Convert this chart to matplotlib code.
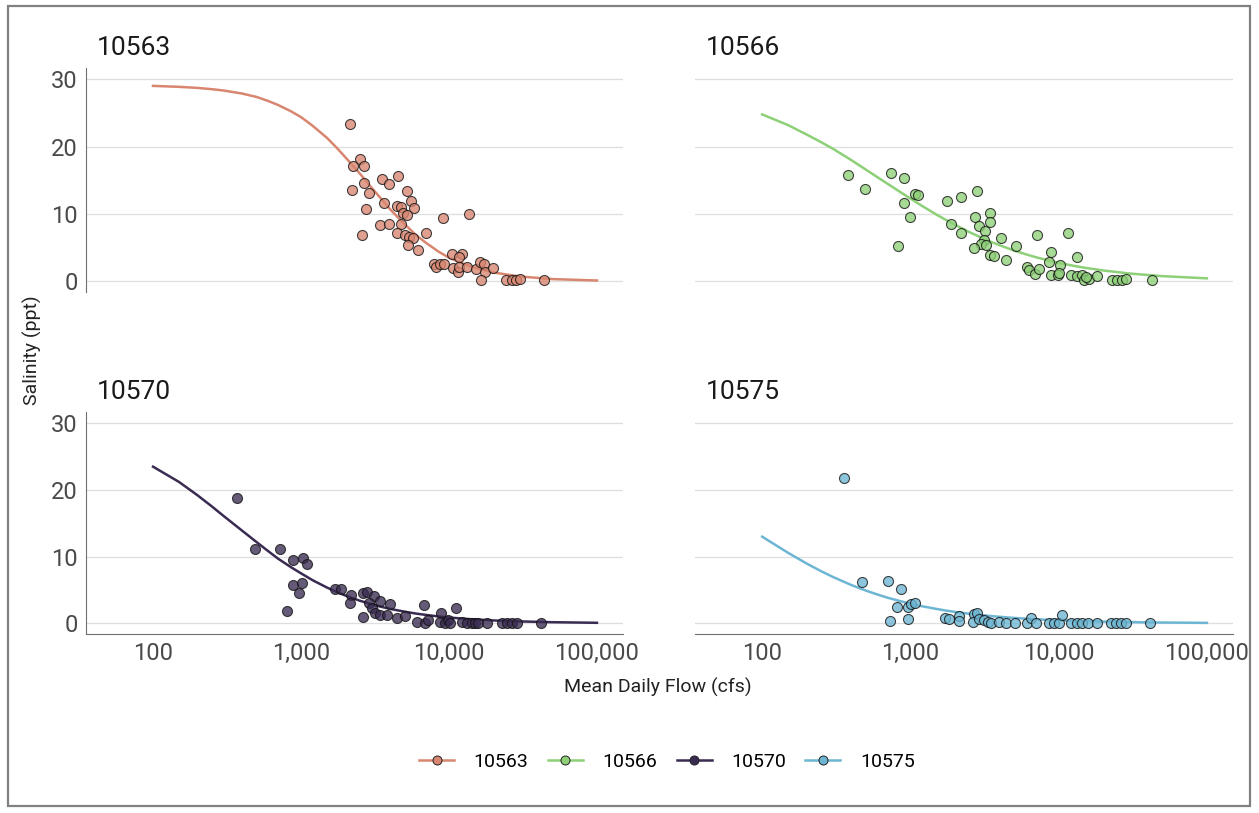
import numpy as np
import matplotlib
matplotlib.use("Agg")
import matplotlib.pyplot as plt
from matplotlib.lines import Line2D
from matplotlib.patches import Rectangle
from matplotlib.ticker import FuncFormatter

plt.rcParams['font.family'] = ['Roboto', 'DejaVu Sans']

stations = ['10563', '10566', '10570', '10575']
colors = ['#D98670', '#8DD077', '#3A2B52', '#6DB6D3']

flow_10563 = [2140, 2510, 2260, 2680, 2680, 2220, 2880, 3540, 3950, 4540, 5170, 5540,
              5830, 3640, 4440, 4720, 2750, 4910, 5170, 9060, 13700, 3420, 3950, 4740,
              2570, 4440, 5040, 5370, 5740, 6970, 5260, 6210, 10420, 12190, 11730, 7920,
              8170, 8690, 9250, 10690, 11560, 11730, 13300, 15200, 16180, 17220, 17580,
              19910, 16440, 24270, 26530, 28230, 30200, 44060]
sal_10563 = [23.4, 18.1, 17.1, 17.1, 14.6, 13.6, 13.1, 15.2, 14.4, 15.6, 13.4, 11.9,
             10.9, 11.7, 11.2, 11.1, 10.7, 10.1, 9.9, 9.4, 10.0, 8.4, 8.5, 8.5,
             6.8, 7.2, 6.8, 6.6, 6.5, 7.2, 5.4, 4.7, 4.1, 4.1, 3.6, 2.5,
             2.1, 2.5, 2.6, 1.9, 1.4, 2.1, 2.1, 1.8, 2.9, 2.6, 1.3,
             1.9, 0.25, 0.25, 0.15, 0.25, 0.3, 0.25]

flow_10566 = [380, 497, 745, 902, 1081, 1127, 902, 989, 820, 1770, 2200, 2795, 1885,
              2178, 2706, 2924, 3434, 3434, 3178, 3127, 3000, 3245, 2680, 3434, 3655,
              4055, 4433, 5180, 7170, 11560, 8940, 8600, 13250, 10210, 6140, 6300, 6910,
              7360, 8940, 9900, 10050, 12190, 13370, 14430, 14820, 16020, 18240, 22810,
              24920, 26540, 28380, 42500, 15200]
sal_10566 = [15.75, 13.7, 16.15, 15.35, 13.0, 12.8, 11.6, 9.55, 5.2, 12.0, 12.5, 13.4, 8.5,
             7.1, 9.5, 8.2, 10.15, 8.8, 7.5, 6.2, 5.6, 5.35, 5.0, 3.85, 3.7,
             6.4, 3.2, 5.2, 6.8, 7.2, 4.35, 2.9, 3.6, 2.4, 2.1, 1.6, 1.15,
             1.8, 1.0, 0.9, 1.2, 0.9, 0.75, 1.0, 0.15, 0.4, 0.8, 0.25,
             0.25, 0.25, 0.3, 0.25, 0.6]

flow_10570 = [372, 489, 721, 887, 1037, 1105, 880, 1012, 975, 800, 1700, 1855, 2166,
              2143, 2636, 2780, 3113, 3420, 2900, 3004, 3990, 2636, 3162, 3420, 3795,
              4436, 5045, 6050, 6810, 11150, 8790, 6890, 7250, 8690, 9400, 9890, 10160,
              12190, 13300, 14240, 15000, 15800, 17990, 22700, 24550, 26540, 28640, 41880]
sal_10570 = [18.85, 11.1, 11.1, 9.5, 9.75, 8.85, 5.7, 6.1, 4.6, 1.85, 5.1, 5.1, 4.2,
             3.0, 4.6, 4.7, 4.1, 3.35, 3.1, 2.35, 2.85, 1.0, 1.6, 1.2, 1.2,
             0.85, 1.1, 0.2, 2.75, 2.35, 1.5, 0.1, 0.5, 0.2, 0.1, 0.5, 0.0,
             0.2, 0.1, 0.1, 0.1, 0.1, 0.0, 0.0, 0.0, 0.0, 0.0, 0.0]

flow_10575 = [354, 472, 703, 869, 813, 964, 1011, 1081, 733, 964, 1700, 1815, 2122,
              2122, 2680, 2820, 2636, 2897, 3127, 3331, 3508, 3955, 4436, 5045, 6082,
              6470, 7000, 8610, 9300, 10050, 10600, 12190, 13370, 14450, 15780, 18070,
              22440, 24260, 26240, 28380, 41400]
sal_10575 = [21.85, 6.2, 6.3, 5.2, 2.45, 2.45, 2.85, 3.0, 0.35, 0.6, 0.75, 0.6, 1.1,
             0.35, 1.35, 1.5, 0.2, 0.6, 0.5, 0.2, 0.1, 0.2, 0.1, 0.1, 0.1,
             0.85, 0.1, 0.1, 0.1, 0.1, 1.2, 0.1, 0.1, 0.1, 0.1, 0.1,
             0.1, 0.1, 0.1, 0.1, 0.1]

# fitted curves, read at these flows
curve_flow = [100, 150, 200, 250, 300, 400, 500, 600, 700, 850, 1000, 1200, 1500, 1750,
              2000, 2500, 3000, 3500, 4000, 5000, 6000, 7000, 8500, 10000, 12500, 15000,
              20000, 30000, 50000, 100000]
curve_10563 = [29.04, 28.9, 28.74, 28.55, 28.35, 27.9, 27.4, 26.8, 26.2, 25.3, 24.4, 23.1,
               21.3, 19.8, 18.4, 16.0, 13.9, 12.2, 10.7, 8.5, 6.85, 5.7, 4.4, 3.5, 2.6,
               2.0, 1.3, 0.71, 0.32, 0.11]
curve_10566 = [24.8, 23.2, 21.8, 20.67, 19.7, 18.0, 16.6, 15.46, 14.5, 13.29, 12.3, 11.19,
               9.9, 9.07, 8.4, 7.3, 6.5, 5.85, 5.35, 4.57, 4.01, 3.58, 3.1, 2.74, 2.31,
               2.0, 1.6, 1.15, 0.76, 0.43]
curve_10570 = [23.5, 21.2, 19.2, 17.53, 16.1, 13.9, 12.2, 10.83, 9.7, 8.46, 7.5, 6.46,
               5.36, 4.69, 4.16, 3.39, 2.86, 2.47, 2.17, 1.75, 1.46, 1.26, 1.03, 0.88,
               0.70, 0.58, 0.43, 0.29, 0.17, 0.08]
curve_10575 = [13.0, 10.56, 8.96, 7.82, 6.96, 5.74, 4.92, 4.32, 3.85, 3.34, 2.95, 2.56,
               2.16, 1.90, 1.71, 1.43, 1.24, 1.09, 0.98, 0.81, 0.70, 0.62, 0.52, 0.46,
               0.38, 0.33, 0.26, 0.18, 0.12, 0.07]

flows = [flow_10563, flow_10566, flow_10570, flow_10575]
sals = [sal_10563, sal_10566, sal_10570, sal_10575]
curves = [curve_10563, curve_10566, curve_10570, curve_10575]

W, H = 1259, 813
fig = plt.figure(figsize=(W / 100, H / 100), dpi=100)

# panel boxes in pixels: left, top, right, bottom
boxes = [(86, 68, 623, 292), (695, 68, 1233, 292),
         (86, 412, 623, 634), (695, 412, 1233, 634)]

axis_col = '#707070'
tick_col = '#4a4a4a'

for i, st in enumerate(stations):
    l, t, r, b = boxes[i]
    ax = fig.add_axes([l / W, 1 - b / H, (r - l) / W, (b - t) / H])
    ax.set_xscale('log')
    ax.set_xlim(10 ** 1.547, 10 ** 5.176)
    ax.set_ylim(-1.6, 31.7)
    ax.set_yticks([0, 10, 20, 30])
    ax.set_xticks([100, 1000, 10000, 100000])
    ax.xaxis.set_minor_locator(plt.NullLocator())
    ax.xaxis.set_major_formatter(FuncFormatter(lambda v, p: f'{v:,.0f}'))
    ax.grid(axis='y', color='#dedede', lw=0.9)
    ax.set_axisbelow(True)
    ax.tick_params(length=0, labelsize=17, colors=tick_col, pad=6)
    for s in ['top', 'right']:
        ax.spines[s].set_visible(False)
    ax.spines['left'].set_color(axis_col)
    ax.spines['bottom'].set_color(axis_col)
    if i % 2 == 1:
        ax.spines['left'].set_visible(False)
        ax.tick_params(labelleft=False)
    if i < 2:
        ax.spines['bottom'].set_visible(False)
        ax.tick_params(labelbottom=False)

    ax.plot(curve_flow, curves[i], color=colors[i], lw=1.8, zorder=2)
    ax.scatter(flows[i], sals[i], s=52, facecolor=colors[i], alpha=0.78,
               edgecolor='#111111', linewidth=0.8, zorder=3)

    ax.text(11 / (r - l), 1 + 13 / (b - t), st, transform=ax.transAxes,
            fontsize=19, color='#1a1a1a', ha='left', va='baseline')

fig.text(32 / W, 1 - 350 / H, 'Salinity (ppt)', rotation=90, fontsize=14,
         color='#222222', ha='center', va='center')
fig.text(658 / W, 1 - 687 / H, 'Mean Daily Flow (cfs)', fontsize=14,
         color='#222222', ha='center', va='center')

handles = [Line2D([0], [0], color=c, lw=1.8, marker='o', markersize=6.5,
                  markerfacecolor=c, markeredgecolor='#222222', markeredgewidth=0.7)
           for c in colors]
leg = fig.legend(handles, stations, loc='center', bbox_to_anchor=(667 / W, 1 - 762 / H),
                 ncol=4, frameon=False, fontsize=14, handlelength=1.8,
                 handletextpad=1.0, columnspacing=1.0)

fig.patches.append(Rectangle((8 / W, 1 - 806 / H), (1250 - 8) / W, (806 - 6) / H,
                             transform=fig.transFigure, fill=False,
                             edgecolor='#808080', linewidth=1.6))

fig.savefig('out.png', dpi=100, facecolor='white')
